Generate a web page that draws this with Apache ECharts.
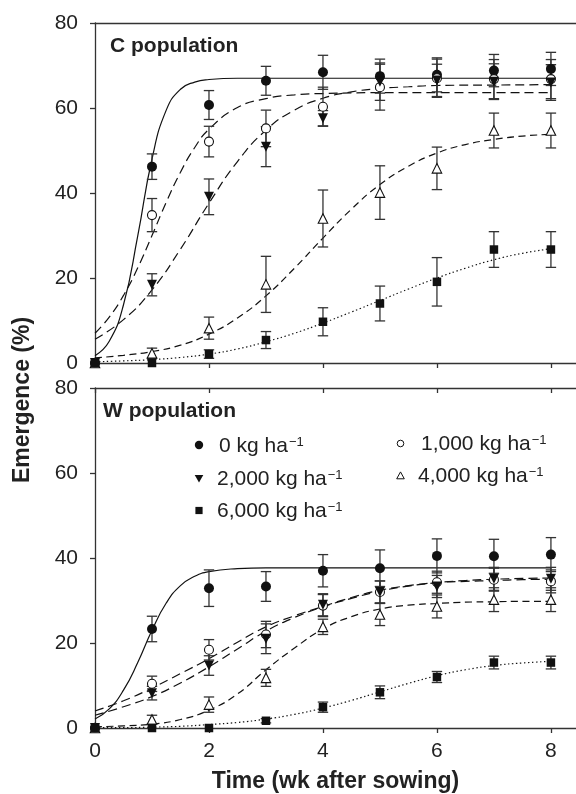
<!DOCTYPE html>
<html>
<head>
<meta charset="utf-8">
<script src="https://cdn.jsdelivr.net/npm/echarts@6/dist/echarts.min.js"></script>
<style>
html,body{margin:0;padding:0;background:#fff;}
#chart{width:576px;height:794px;}
</style>
</head>
<body>
<div id="chart"></div>
<script>
// ---------- data ----------
const weeks = [0, 1, 2, 3, 4, 5, 6, 7, 8];
const xTickValues = [0, 2, 4, 6, 8];

// C population: means and error (+/-)
const c0Mean    = [0, 46.2, 60.7, 66.4, 68.4, 67.5, 67.8, 68.8, 69.2];
const c0Err     = [0, 3.0, 3.4, 3.4, 4.0, 4.0, 4.0, 3.8, 3.9];
const c1000Mean = [0, 34.8, 52.1, 55.2, 60.3, 64.9, 67.0, 66.8, 66.8];
const c1000Err  = [0, 3.9, 3.6, 4.3, 4.6, 5.4, 4.5, 4.6, 4.6];
const c2000Mean = [0, 18.4, 39.1, 50.9, 57.6, 66.2, 66.5, 66.2, 66.0];
const c2000Err  = [0, 2.6, 4.2, 4.7, 1.8, 4.4, 3.8, 4.2, 4.2];
const c4000Mean = [0, 2.3, 8.2, 18.5, 34.0, 40.1, 45.8, 54.7, 54.7];
const c4000Err  = [0, 1.2, 2.6, 6.6, 6.7, 6.3, 5.0, 4.1, 4.1];
const c6000Mean = [0, 0, 2.1, 5.4, 9.7, 14.0, 19.1, 26.7, 26.7];
const c6000Err  = [0, 0, 1.0, 2.0, 3.3, 4.1, 5.7, 4.2, 4.2];

// W population
const w0Mean    = [0, 23.3, 32.9, 33.3, 37.0, 37.6, 40.5, 40.4, 40.8];
const w0Err     = [0, 3.0, 4.3, 3.5, 3.8, 4.3, 4.0, 4.0, 4.0];
const w1000Mean = [0, 10.4, 18.4, 22.0, 28.8, 32.0, 34.3, 34.9, 34.5];
const w1000Err  = [0, 1.8, 2.4, 3.1, 2.6, 2.6, 2.6, 2.7, 2.7];
const w2000Mean = [0, 8.2, 14.7, 21.0, 29.0, 32.0, 33.3, 35.1, 35.1];
const w2000Err  = [0, 1.6, 2.3, 3.5, 2.6, 2.6, 2.6, 2.7, 2.7];
const w4000Mean = [0, 2.0, 5.5, 11.8, 23.8, 26.7, 28.6, 30.2, 30.2];
const w4000Err  = [0, 1.0, 1.8, 2.0, 1.8, 2.6, 2.7, 2.8, 2.8];
const w6000Mean = [0, 0, 0, 1.7, 4.9, 8.4, 12.0, 15.4, 15.4];
const w6000Err  = [0, 0, 0, 0.5, 1.2, 1.5, 1.3, 1.5, 1.5];

// fitted curves: [week, emergence %]
const cFit0    = [[0,1.7],[0.25,5.1],[0.5,13.7],[0.75,29.9],[1,48.0],[1.25,59.5],[1.5,64.4],[1.75,66.1],[2,66.7],[2.5,67.0],[3,67.0],[4,67.0],[5,67.0],[6,67.0],[7,67.0],[8,67.0]];
const cFit1000 = [[0,7.0],[0.25,10.8],[0.5,15.9],[0.75,22.4],[1,30.0],[1.25,37.8],[1.5,44.9],[1.75,50.7],[2,55.0],[2.5,60.1],[3,62.2],[3.5,63.1],[4,63.4],[5,63.6],[6,63.6],[7,63.6],[8,63.6]];
const cFit2000 = [[0,5.6],[0.5,10.2],[1,17.2],[1.5,26.8],[2,37.6],[2.5,47.4],[3,54.8],[3.5,59.5],[4,62.3],[4.5,63.8],[5,64.6],[5.5,65.0],[6,65.3],[7,65.4],[8,65.5]];
const cFit4000 = [[0,1.2],[0.5,1.8],[1,2.7],[1.5,4.2],[2,6.8],[2.5,10.6],[3,15.8],[3.5,22.3],[4,29.4],[4.5,36.2],[5,42.0],[5.5,46.3],[6,49.4],[6.5,51.4],[7,52.6],[7.5,53.4],[8,53.8]];
const cFit6000 = [[0,0.3],[0.5,0.5],[1,0.8],[1.5,1.3],[2,2.1],[2.5,3.3],[3,5.0],[3.5,7.0],[4,9.4],[4.5,12.0],[5,14.7],[5.5,17.4],[6,20.0],[6.5,22.3],[7,24.3],[7.5,25.8],[8,26.9]];

const wFit0    = [[0,2.1],[0.25,4.5],[0.5,8.9],[0.75,15.4],[1,23.0],[1.25,29.4],[1.5,33.5],[1.75,35.7],[2,36.8],[2.5,37.5],[3,37.7],[4,37.7],[5,37.7],[6,37.7],[7,37.7],[8,37.7]];
const wFit1000 = [[0,4.0],[0.5,6.4],[1,9.4],[1.5,12.8],[2,16.3],[2.5,20.2],[3,23.8],[3.5,26.4],[4,28.6],[4.5,30.7],[5,32.4],[5.5,33.5],[6,34.2],[6.5,34.5],[7,34.7],[7.5,34.9],[8,35.0]];
const wFit2000 = [[0,3.0],[0.5,5.0],[1,7.4],[1.5,10.6],[2,14.4],[2.5,18.6],[3,22.8],[3.5,26.0],[4,28.5],[4.5,30.5],[5,32.2],[5.5,33.4],[6,34.2],[6.5,34.7],[7,35.0],[7.5,35.2],[8,35.3]];
const wFit4000 = [[0,0.3],[0.5,0.5],[1,0.9],[1.5,2.0],[2,4.2],[2.5,8.0],[3,13.7],[3.5,18.8],[4,23.3],[4.5,26.2],[5,28.0],[5.5,28.9],[6,29.3],[6.5,29.6],[7,29.7],[7.5,29.8],[8,29.8]];
const wFit6000 = [[0,0.1],[0.5,0.1],[1,0.2],[1.5,0.4],[2,0.8],[2.5,1.3],[3,2.1],[3.5,3.2],[4,4.7],[4.5,6.5],[5,8.5],[5.5,10.5],[6,12.3],[6.5,13.7],[7,14.7],[7.5,15.3],[8,15.7]];

const legendLabels = ['0', '1,000', '2,000', '4,000', '6,000'];

// ---------- styles ----------
const INK = '#111';
const AXIS = '#333';
const FONT = 'Liberation Sans, Arial, sans-serif';

const markerStyles = {
  '0':     { symbol: 'circle',   size: 10, rotate: 0,   fill: INK },
  '1,000': { symbol: 'circle',   size: 9,  rotate: 0,   fill: '#fff' },
  '2,000': { symbol: 'triangle', size: 10, rotate: 180, fill: INK },
  '4,000': { symbol: 'triangle', size: 9.5, rotate: 0,  fill: '#fff' },
  '6,000': { symbol: 'rect',     size: 8.5, rotate: 0,  fill: INK }
};
const lineTypes = {
  '0': 'solid', '1,000': [9, 5], '2,000': [9, 5], '4,000': [7, 4.5], '6,000': [1.4, 2.6]
};

function errData(mean, err) {
  return weeks.map((w, i) => err[i] > 0 ? [w, mean[i] - err[i], mean[i] + err[i]] : null).filter(d => d);
}

function errorSeries(mean, err, xi, yi) {
  return {
    type: 'custom', xAxisIndex: xi, yAxisIndex: yi, z: 3, clip: false,
    encode: { x: 0, y: [1, 2] },
    data: errData(mean, err),
    renderItem: function (params, api) {
      const x = api.value(0), lo = api.value(1), hi = api.value(2);
      const a = api.coord([x, lo]), b = api.coord([x, hi]);
      const hw = 5.2;
      const st = { stroke: AXIS, lineWidth: 1.3 };
      return { type: 'group', children: [
        { type: 'line', shape: { x1: a[0], y1: a[1], x2: b[0], y2: b[1] }, style: st },
        { type: 'line', shape: { x1: a[0] - hw, y1: a[1], x2: a[0] + hw, y2: a[1] }, style: st },
        { type: 'line', shape: { x1: b[0] - hw, y1: b[1], x2: b[0] + hw, y2: b[1] }, style: st }
      ]};
    }
  };
}

function markerSeries(key, mean, xi, yi) {
  const m = markerStyles[key];
  return {
    type: 'scatter', name: key, xAxisIndex: xi, yAxisIndex: yi, z: 5, clip: false,
    symbol: m.symbol, symbolSize: m.size, symbolRotate: m.rotate,
    itemStyle: { color: m.fill, borderColor: INK, borderWidth: m.fill === '#fff' ? 1.1 : 0, opacity: 1 },
    data: weeks.map((w, i) => [w, mean[i]])
  };
}

function curveSeries(key, fit, xi, yi) {
  return {
    type: 'line', xAxisIndex: xi, yAxisIndex: yi, z: 2, clip: false,
    showSymbol: false, symbol: 'none', smooth: 0.5,
    lineStyle: { color: INK, width: 1.2, type: lineTypes[key] },
    data: fit
  };
}

const panels = [
  { xi: 0, yi: 0, means: [c0Mean, c1000Mean, c2000Mean, c4000Mean, c6000Mean],
    errs: [c0Err, c1000Err, c2000Err, c4000Err, c6000Err],
    fits: [cFit0, cFit1000, cFit2000, cFit4000, cFit6000] },
  { xi: 2, yi: 1, means: [w0Mean, w1000Mean, w2000Mean, w4000Mean, w6000Mean],
    errs: [w0Err, w1000Err, w2000Err, w4000Err, w6000Err],
    fits: [wFit0, wFit1000, wFit2000, wFit4000, wFit6000] }
];

const series = [];
panels.forEach(p => {
  legendLabels.forEach((k, i) => series.push(curveSeries(k, p.fits[i], p.xi, p.yi)));
  legendLabels.forEach((k, i) => series.push(errorSeries(p.means[i], p.errs[i], p.xi, p.yi)));
  legendLabels.forEach((k, i) => series.push(markerSeries(k, p.means[i], p.xi, p.yi)));
});

// ---------- axes ----------
const XMAX = 8.44;
function xAxisDef(grid, pos, opts) {
  return Object.assign({
    type: 'value', gridIndex: grid, position: pos, min: 0, max: XMAX,
    axisLine: { show: true, onZero: false, lineStyle: { color: AXIS, width: 1.3 } },
    axisTick: { show: false },
    axisLabel: { show: false },
    splitLine: { show: false }
  }, opts);
}
const xAxes = [
  xAxisDef(0, 'bottom', { axisTick: { show: true, inside: false, length: 5, customValues: xTickValues, lineStyle: { color: AXIS, width: 1.3 } } }),
  xAxisDef(0, 'top', {}),
  xAxisDef(1, 'bottom', {
    axisTick: { show: true, inside: false, length: 5, customValues: xTickValues, lineStyle: { color: AXIS, width: 1.3 } },
    axisLabel: { show: true, customValues: xTickValues, fontSize: 21, fontFamily: FONT, color: '#222', margin: 13 },
    name: 'Time (wk after sowing)', nameLocation: 'middle', nameGap: 42,
    nameTextStyle: { fontSize: 23, fontWeight: 'bold', fontFamily: FONT, color: '#222' }
  }),
  xAxisDef(1, 'top', { axisTick: { show: true, inside: true, length: 5, customValues: xTickValues, lineStyle: { color: AXIS, width: 1.3 } } })
];
function yAxisDef(grid) {
  return {
    type: 'value', gridIndex: grid, min: 0, max: 80, interval: 20,
    axisLine: { show: true, lineStyle: { color: AXIS, width: 1.3 } },
    axisTick: { show: true, inside: false, length: 5, lineStyle: { color: AXIS, width: 1.3 } },
    axisLabel: { fontSize: 21, fontFamily: FONT, color: '#222', margin: 17 },
    splitLine: { show: false }
  };
}

// ---------- legend (drawn as graphics inside lower panel) ----------
function legendItem(key, mx, my, tx, ty) {
  const m = markerStyles[key];
  let shape;
  const st = { fill: m.fill, stroke: INK, lineWidth: m.fill === '#fff' ? 1 : 0 };
  if (m.symbol === 'circle') {
    shape = { type: 'circle', shape: { cx: mx, cy: my, r: (m.fill === '#fff' ? 3.3 : 4.2) }, style: st };
  } else if (m.symbol === 'rect') {
    shape = { type: 'rect', shape: { x: mx - 3.6, y: my - 3.6, width: 7.2, height: 7.2 }, style: st };
  } else if (m.rotate === 180) {
    shape = { type: 'polygon', shape: { points: [[mx - 4.3, my - 3.6], [mx + 4.3, my - 3.6], [mx, my + 4]] }, style: st };
  } else {
    shape = { type: 'polygon', shape: { points: [[mx - 3.8, my + 3.3], [mx + 3.8, my + 3.3], [mx, my - 3.6]] }, style: st };
  }
  const text = {
    type: 'text', x: tx, y: ty,
    style: {
      text: key + ' kg ha{sup|\u22121}',
      fontSize: 21, fontFamily: FONT, fill: '#222', align: 'left', verticalAlign: 'middle',
      rich: { sup: { fontSize: 13, fontFamily: FONT, verticalAlign: 'top', padding: [0, 0, 0, 1] } }
    }
  };
  return [shape, text];
}

const graphics = [
  { type: 'text', x: 110, y: 46, style: { text: 'C population', fontSize: 21, fontWeight: 'bold', fontFamily: FONT, fill: '#222', verticalAlign: 'middle' } },
  { type: 'text', x: 103, y: 411, style: { text: 'W population', fontSize: 21, fontWeight: 'bold', fontFamily: FONT, fill: '#222', verticalAlign: 'middle' } },
  { type: 'text', x: 23, y: 400, rotation: Math.PI / 2,
    style: { text: 'Emergence (%)', fontSize: 23, fontWeight: 'bold', fontFamily: FONT, fill: '#222', align: 'center', verticalAlign: 'middle' } }
].concat(
  legendItem('0', 199, 445, 219, 446),
  legendItem('2,000', 199, 478.5, 217, 479),
  legendItem('6,000', 199, 510.5, 217, 511),
  legendItem('1,000', 400.5, 443.5, 421, 444),
  legendItem('4,000', 400.5, 475.5, 418, 476)
);

const chart = echarts.init(document.getElementById('chart'), null, { renderer: 'canvas' });
chart.setOption({
  animation: false,
  backgroundColor: '#fff',
  grid: [
    { left: 95, right: 0, top: 23, height: 340 },
    { left: 95, right: 0, top: 388, height: 340 }
  ],
  xAxis: xAxes,
  yAxis: [yAxisDef(0), yAxisDef(1)],
  series: series,
  graphic: graphics
});
</script>
</body>
</html>
